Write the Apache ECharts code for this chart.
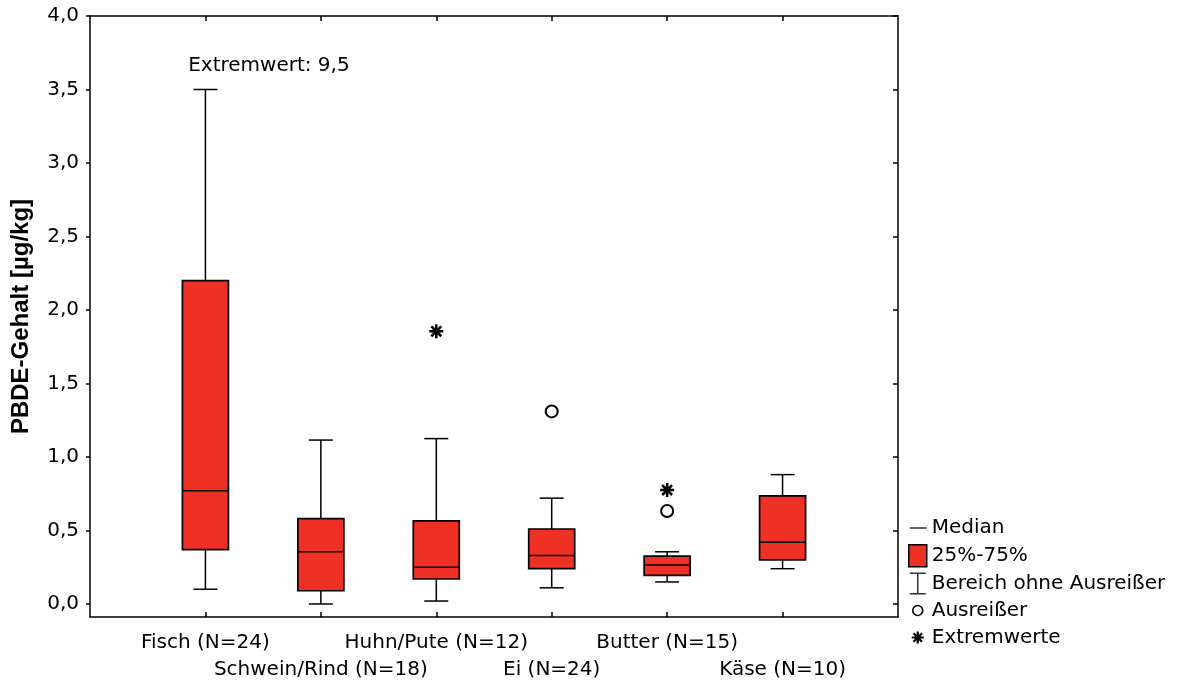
<!DOCTYPE html>
<html>
<head>
<meta charset="utf-8">
<script src="https://cdn.jsdelivr.net/npm/echarts@6/dist/echarts.min.js"></script>
<style>
  html, body { margin: 0; padding: 0; background: #fff; }
  #chart { width: 1182px; height: 686px; }
</style>
</head>
<body>
<div id="chart"></div>
<script>
// Boxplot-Daten
var categories = ['Fisch (N=24)', 'Schwein/Rind (N=18)', 'Huhn/Pute (N=12)', 'Ei (N=24)', 'Butter (N=15)', 'Käse (N=10)'];
var whiskerLow  = [0.10, 0.00, 0.02, 0.11, 0.15, 0.24];
var q1          = [0.37, 0.09, 0.17, 0.24, 0.195, 0.30];
var median      = [0.77, 0.355, 0.25, 0.33, 0.265, 0.42];
var q3          = [2.20, 0.58, 0.565, 0.51, 0.325, 0.735];
var whiskerHigh = [3.50, 1.115, 1.125, 0.72, 0.355, 0.88];

// Ausreißer / Extremwerte: [Kategorie-Index, Wert]
var outliers = [[3, 1.31], [4, 0.633]];
var extremes = [[2, 1.855], [4, 0.775]];
var yTicks = [0, 0.5, 1, 1.5, 2, 2.5, 3, 3.5, 4];

var RED = '#ee3124';
var FONT = 'DejaVu Sans';

function star(cx, cy, r, t) {
  // Sternchen aus 4 Balken (alle gleiche Umlaufrichtung)
  var d = r * Math.SQRT1_2, p = t * Math.SQRT1_2;
  function pt(x, y) { return (cx + x).toFixed(3) + ',' + (cy + y).toFixed(3); }
  return 'M' + pt(-r, -t) + 'L' + pt(r, -t) + 'L' + pt(r, t) + 'L' + pt(-r, t) + 'Z' +
    'M' + pt(-t, -r) + 'L' + pt(t, -r) + 'L' + pt(t, r) + 'L' + pt(-t, r) + 'Z' +
    'M' + pt(-d + p, -d - p) + 'L' + pt(d + p, d - p) + 'L' + pt(d - p, d + p) + 'L' + pt(-d - p, -d + p) + 'Z' +
    'M' + pt(d + p, -d + p) + 'L' + pt(-d + p, d + p) + 'L' + pt(-d - p, d - p) + 'L' + pt(d - p, -d - p) + 'Z';
}

var boxData = categories.map(function (c, i) {
  return [i + 1, whiskerLow[i], q1[i], median[i], q3[i], whiskerHigh[i]];
});
var catX = categories.map(function (c, i) { return i + 1; });
// versetzte Beschriftung: 1./3./5. oben, 2./4./6. darunter
var rowOne = catX.filter(function (v) { return v % 2 === 1; });
var rowTwo = catX.filter(function (v) { return v % 2 === 0; });

var chart = echarts.init(document.getElementById('chart'));

var pad = 'M0,0M18,22';
var frame = { onZero: false, lineStyle: { color: '#000', width: 1.5 } };
var tickStyle = { color: '#000', width: 1.5 };
function catName(v) { return categories[Math.round(v) - 1]; }

var option = {
  animation: false,
  textStyle: { fontFamily: FONT },
  grid: { left: 90, right: 284, top: 16, bottom: 69, containLabel: false },
  legend: {
    orient: 'vertical',
    left: 903,
    top: 512,
    itemWidth: 18,
    itemHeight: 22,
    itemGap: 5,
    selectedMode: false,
    textStyle: { fontSize: 20, color: '#000', fontFamily: FONT },
    data: [
      { name: 'Median', icon: 'path://' + pad + 'M1,10.25H18V11.75H1Z', itemStyle: { color: '#000', borderWidth: 0 } },
      { name: '25%-75%', icon: 'rect', itemStyle: { color: RED, borderColor: '#000', borderWidth: 1.5 } },
      { name: 'Bereich ohne Ausreißer', icon: 'path://' + pad + 'M1,0H17V1.5H9.75V20.5H17V22H1V20.5H8.25V1.5H1Z', itemStyle: { color: '#000', borderWidth: 0 } },
      { name: 'Ausreißer', icon: 'path://' + pad + 'M14.75,11A5.75,5.75 0 1 0 3.25,11A5.75,5.75 0 1 0 14.75,11ZM13.15,11A4.15,4.15 0 1 1 4.85,11A4.15,4.15 0 1 1 13.15,11Z', itemStyle: { color: '#000', borderWidth: 0 } },
      { name: 'Extremwerte', icon: 'path://' + pad + star(9, 11, 6, 1.1), itemStyle: { color: '#000', borderWidth: 0 } }
    ]
  },
  xAxis: [{
    type: 'value',
    min: 0,
    max: 7,
    position: 'bottom',
    axisLine: frame,
    axisTick: { inside: true, length: 5, lineStyle: tickStyle, customValues: catX },
    axisLabel: {
      customValues: rowOne,
      margin: 16,
      verticalAlign: 'top',
      fontSize: 20,
      color: '#000',
      formatter: catName
    },
    splitLine: { show: false }
  }, {
    type: 'value',
    min: 0,
    max: 7,
    position: 'bottom',
    axisLine: { show: false },
    axisTick: { show: false },
    axisLabel: {
      customValues: rowTwo,
      margin: 43,
      verticalAlign: 'top',
      fontSize: 20,
      color: '#000',
      formatter: catName
    },
    splitLine: { show: false }
  }, {
    type: 'value',
    min: 0,
    max: 7,
    position: 'top',
    axisLine: frame,
    axisTick: { inside: true, length: 5, lineStyle: tickStyle, customValues: catX },
    axisLabel: { show: false },
    splitLine: { show: false }
  }],
  yAxis: [{
    type: 'value',
    min: -0.0886,
    max: 4,
    position: 'left',
    name: 'PBDE-Gehalt [µg/kg]',
    nameLocation: 'middle',
    nameGap: 57,
    nameTextStyle: { fontSize: 24, fontWeight: 'bold', color: '#000', fontFamily: 'Liberation Sans' },
    axisLine: frame,
    axisTick: { show: true, length: 4, lineStyle: tickStyle, customValues: yTicks },
    axisLabel: {
      customValues: yTicks,
      margin: 11,
      fontSize: 20,
      color: '#000',
      formatter: function (v) { return v.toFixed(1).replace('.', ','); }
    },
    splitLine: { show: false }
  }, {
    type: 'value',
    min: -0.0886,
    max: 4,
    position: 'right',
    axisLine: frame,
    axisTick: { show: true, inside: true, length: 5, lineStyle: tickStyle, customValues: yTicks },
    axisLabel: { show: false },
    splitLine: { show: false }
  }],
  series: [{
    name: '25%-75%',
    type: 'custom',
    itemStyle: { color: RED, borderColor: '#000', borderWidth: 1.5 },
    encode: { x: 0, y: [1, 2, 3, 4, 5] },
    data: boxData,
    renderItem: function (params, api) {
      var x = api.value(0);
      var lo = api.coord([x, api.value(1)]);
      var b1 = api.coord([x, api.value(2)]);
      var md = api.coord([x, api.value(3)]);
      var b3 = api.coord([x, api.value(4)]);
      var hi = api.coord([x, api.value(5)]);
      var cx = lo[0], hw = 23, cw = 12;
      var ls = { stroke: '#000', lineWidth: 1.5 };
      return {
        type: 'group',
        children: [
          { type: 'line', shape: { x1: cx, y1: lo[1], x2: cx, y2: b1[1] }, style: ls },
          { type: 'line', shape: { x1: cx, y1: b3[1], x2: cx, y2: hi[1] }, style: ls },
          { type: 'line', shape: { x1: cx - cw, y1: lo[1], x2: cx + cw, y2: lo[1] }, style: ls },
          { type: 'line', shape: { x1: cx - cw, y1: hi[1], x2: cx + cw, y2: hi[1] }, style: ls },
          { type: 'rect', shape: { x: cx - hw, y: b3[1], width: 2 * hw, height: b1[1] - b3[1] },
            style: { fill: RED, stroke: '#000', lineWidth: 1.7 } },
          { type: 'line', shape: { x1: cx - hw, y1: md[1], x2: cx + hw, y2: md[1] }, style: ls }
        ]
      };
    }
  }, {
    name: 'Median',
    type: 'scatter',
    data: []
  }, {
    name: 'Bereich ohne Ausreißer',
    type: 'scatter',
    data: []
  }, {
    name: 'Ausreißer',
    type: 'scatter',
    symbol: 'emptyCircle',
    symbolSize: 12,
    itemStyle: { color: '#000', borderWidth: 1.5, opacity: 1 },
    data: outliers.map(function (o) { return [o[0] + 1, o[1]]; })
  }, {
    name: 'Extremwerte',
    type: 'scatter',
    symbol: 'path://' + star(0, 0, 10, 1.8),
    symbolSize: 14,
    itemStyle: { color: '#000', opacity: 1 },
    data: extremes.map(function (o) { return [o[0] + 1, o[1]]; })
  }, {
    name: 'Hinweis',
    type: 'scatter',
    symbolSize: 0,
    silent: true,
    itemStyle: { opacity: 1 },
    label: {
      show: true,
      position: 'inside',
      fontSize: 20,
      color: '#000',
      fontFamily: FONT,
      formatter: 'Extremwert: 9,5'
    },
    data: [[1.55, 3.66]]
  }]
};

chart.setOption(option);
</script>
</body>
</html>
